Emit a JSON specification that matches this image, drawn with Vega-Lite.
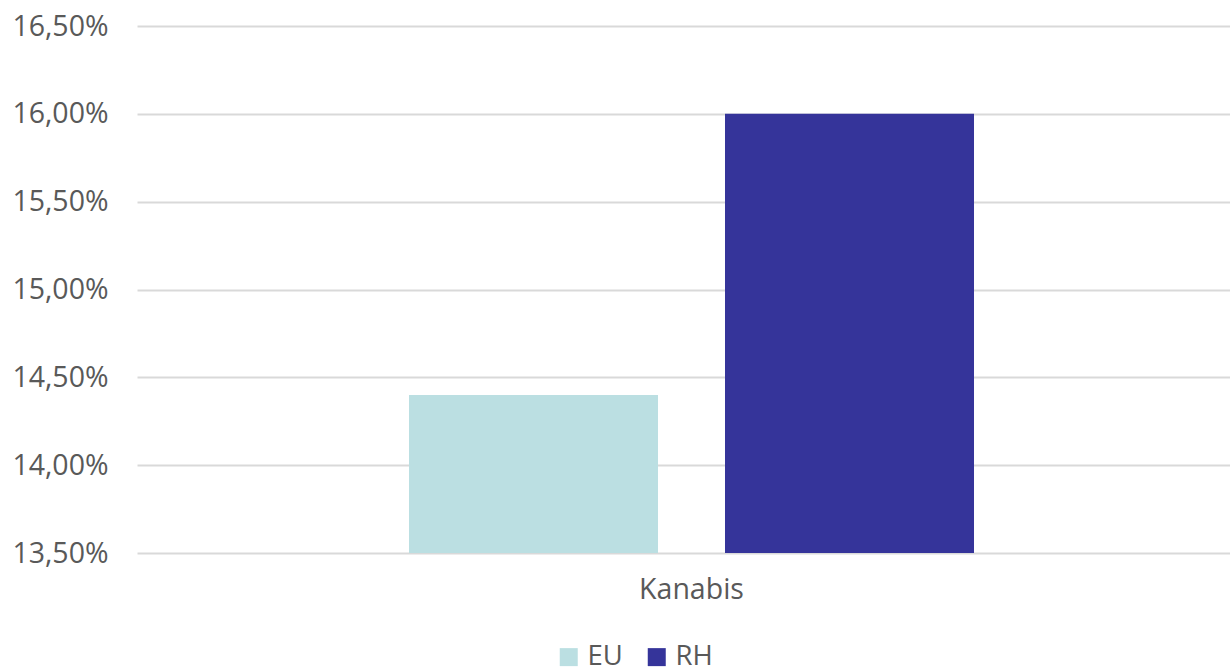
{
  "$schema": "https://vega.github.io/schema/vega-lite/v6.json",
  "autosize": {"type": "none"},
  "padding": {"left": 137, "top": 26, "right": 0, "bottom": 118},
  "width": 1109,
  "height": 527,
  "background": "white",
  "data": {"values": [
    {"kategorie": "Kanabis", "serie": "EU", "podil": 0.144},
    {"kategorie": "Kanabis", "serie": "RH", "podil": 0.16}
  ]},
  "mark": {"type": "bar", "clip": true},
  "encoding": {
    "x": {"field": "kategorie", "type": "nominal", "scale": {"paddingInner": 0, "paddingOuter": 0.4814},
      "axis": {"title": null, "labelAngle": 0, "domain": false, "ticks": false, "labelPadding": 22, "labelFontSize": 28.5, "labelFont": "Open Sans", "labelColor": "#595959"}},
    "xOffset": {"field": "serie", "type": "nominal", "scale": {"paddingInner": 0.212, "paddingOuter": 0}},
    "y": {"field": "podil", "type": "quantitative",
      "scale": {"domain": [0.135, 0.165], "nice": false, "zero": false},
      "axis": {"title": null, "values": [0.135, 0.14, 0.145, 0.15, 0.155, 0.16, 0.165], "labelExpr": "replace(format(datum.value, '.2%'), '.', ',')",
        "domain": false, "ticks": false, "labelPadding": 29, "labelFontSize": 28.5, "labelFont": "Open Sans", "labelColor": "#595959",
        "grid": true, "gridColor": "#D9D9D9", "gridWidth": 2}},
    "color": {"field": "serie", "type": "nominal",
      "scale": {"domain": ["EU", "RH"], "range": ["#BBDFE2", "#35349A"]},
      "legend": {"title": null, "orient": "none", "legendX": 418, "legendY": 617, "direction": "horizontal",
        "symbolType": "square", "symbolSize": 324, "symbolStrokeWidth": 0, "labelFontSize": 27.5, "labelFont": "Open Sans", "labelColor": "#595959", "columnPadding": 20, "labelOffset": 5}}
  },
  "config": {"view": {"stroke": null}}
}
